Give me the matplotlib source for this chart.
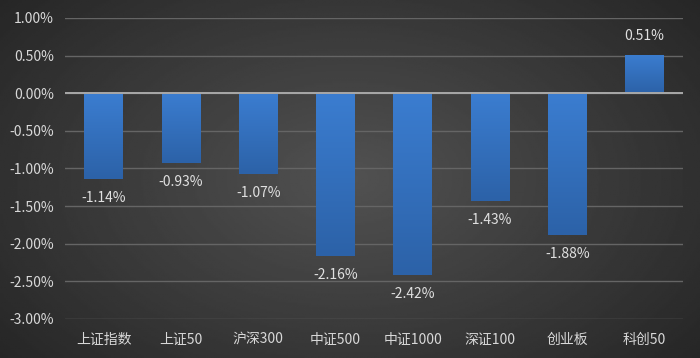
import numpy as np
import matplotlib
matplotlib.use('Agg')
import matplotlib.pyplot as plt
from matplotlib.ticker import FuncFormatter
from matplotlib.colors import LinearSegmentedColormap

plt.rcParams['font.family'] = ['Noto Sans CJK SC', 'DejaVu Sans']

# data
categories = ['上证指数', '上证50', '沪深300', '中证500', '中证1000', '深证100', '创业板', '科创50']
changes = [-1.14, -0.93, -1.07, -2.16, -2.42, -1.43, -1.88, 0.51]
yticks = [1.0, 0.5, 0.0, -0.5, -1.0, -1.5, -2.0, -2.5, -3.0]

fig = plt.figure(figsize=(7, 3.58), dpi=100)

# dark radial background, lighter in the middle
bg = fig.add_axes([0, 0, 1, 1], zorder=-10)
xx, yy = np.meshgrid(np.linspace(-1, 1, 400), np.linspace(-1, 1, 200))
r = np.sqrt((xx * 0.85) ** 2 + (yy * 0.7) ** 2)
bg.imshow(0.32 - 0.20 * np.clip(r, 0, 1.3) / 1.3, cmap='gray', vmin=0, vmax=1,
          aspect='auto', extent=[0, 1, 0, 1])
bg.set_axis_off()

ax = fig.add_axes([0.093, 0.109, 0.883, 0.841])
ax.patch.set_alpha(0)
x = np.arange(len(categories))
bars = ax.bar(x, changes, width=0.5, color='#3675c4', zorder=3)

# vertical gradient on each bar
grad = np.linspace(0, 1, 100).reshape(-1, 1)
bcmap = LinearSegmentedColormap.from_list('b', ['#2c62a8', '#3b7dd0'])
for b in bars:
    x0, y0 = b.get_x(), b.get_y()
    w, h = b.get_width(), b.get_height()
    top, bot = max(y0, y0 + h), min(y0, y0 + h)
    im = ax.imshow(grad, cmap=bcmap, aspect='auto', origin='lower',
                   extent=[x0, x0 + w, bot, top], zorder=4)
    im.set_clip_path(b)

for xi, v in zip(x, changes):
    if v < 0:
        ax.text(xi, v - 0.16, f'{v:.2f}%', ha='center', va='top', color='#e0e0e0', fontsize=10)
    else:
        ax.text(xi, v + 0.16, f'{v:.2f}%', ha='center', va='bottom', color='#e0e0e0', fontsize=10)

ax.set_xlim(-0.5, len(categories) - 0.5)
ax.set_ylim(-3.0, 1.0)
ax.set_yticks(yticks)
ax.yaxis.set_major_formatter(FuncFormatter(lambda v, p: f'{v:.2f}%'))
ax.set_xticks(x)
ax.set_xticklabels(categories)
ax.tick_params(axis='both', length=0, colors='#d8d8d8', labelsize=10)
ax.tick_params(axis='y', pad=8)
ax.tick_params(axis='x', pad=10)
for s in ax.spines.values():
    s.set_visible(False)
ax.grid(axis='y', color='#656565', linewidth=1, zorder=0)
ax.axhline(0, color='#a8a8a8', linewidth=1.4, zorder=5)

fig.savefig('out.png', dpi=100)
